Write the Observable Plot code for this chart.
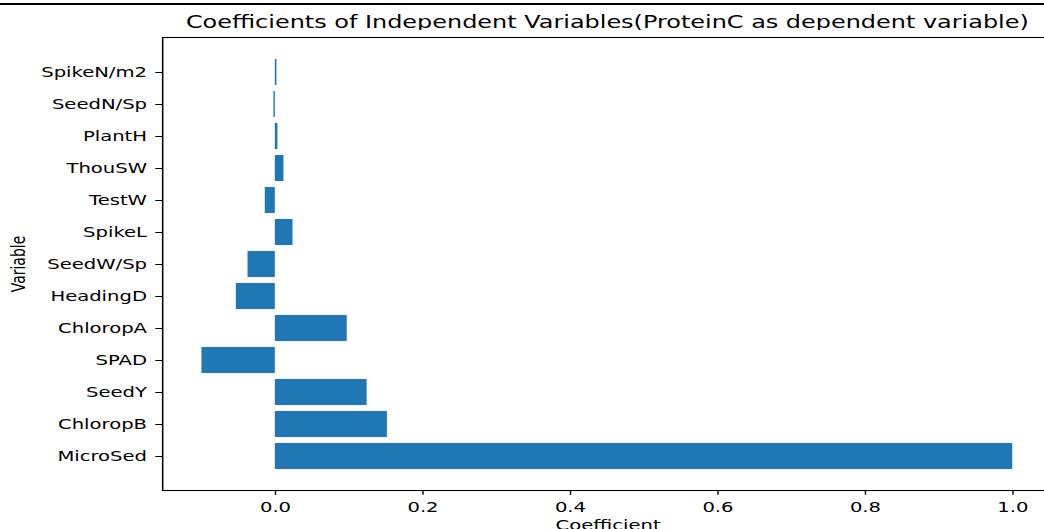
<!DOCTYPE html>
<html><head><meta charset="utf-8">
<script src="https://cdn.jsdelivr.net/npm/d3@7"></script>
<script src="https://cdn.jsdelivr.net/npm/@observablehq/plot@0.6"></script>
<style>
html,body{margin:0;padding:0;background:#fff;}
#wrap{position:relative;width:1044px;height:529px;overflow:hidden;background:#fff;}
#topline{position:absolute;left:0;top:3px;width:1044px;height:1.5px;background:#000;}
#inner{position:absolute;left:0;top:0;width:760px;height:540px;transform:scaleX(1.4);transform-origin:0 0;}
#title{position:absolute;left:115.7px;width:636.3px;top:13.6px;text-align:center;font-family:"DejaVu Sans";font-size:17.1px;line-height:17px;color:#000;white-space:nowrap;}
#chart{position:absolute;left:0;top:30px;}
</style></head>
<body>
<div id="wrap"><div id="topline"></div><div id="inner"><div id="title"></div><div id="chart"></div></div></div>
<script>
const titleText = "Coefficients of Independent Variables(ProteinC as dependent variable)";
const variables = ["SpikeN/m2", "SeedN/Sp", "PlantH", "ThouSW", "TestW", "SpikeL", "SeedW/Sp", "HeadingD", "ChloropA", "SPAD", "SeedY", "ChloropB", "MicroSed"];
const coefficients = [0.0022, -0.0019, 0.0036, 0.0117, -0.0136, 0.024, -0.037, -0.0529, 0.0975, -0.0995, 0.1245, 0.152, 1.0];
const xTicks = [0, 0.2, 0.4, 0.6, 0.8, 1.0];
const xLabel = "Coefficient";
const yLabel = "Variable";

document.getElementById("title").textContent = titleText;
const data = variables.map((v, i) => ({variable: v, coefficient: coefficients[i]}));
const plot = Plot.plot({
  width: 753, height: 505,
  marginLeft: 115.7, marginRight: 1, marginTop: 7, marginBottom: 45,
  style: {fontFamily: "DejaVu Sans", fontSize: "14px", color: "#000", background: "#fff", overflow: "visible"},
  x: {domain: [-0.153, 1.055]},
  y: {domain: variables, paddingInner: 0.2, paddingOuter: 0.64},
  marks: [
    Plot.barX(data, {x: "coefficient", y: "variable", fill: "#1f77b4"}),
    Plot.frame({stroke: "#000", strokeWidth: 1.1}),
    Plot.axisX({ticks: xTicks, tickFormat: d3.format(".1f"), tickSize: 4.8, tickPadding: 6.3, label: null}),
    Plot.axisY({tickSize: 4.8, tickPadding: 6.4, label: null}),
    Plot.text([xLabel], {frameAnchor: "bottom", text: d => d, dy: 39.5, lineAnchor: "bottom"}),
    Plot.text([yLabel], {frameAnchor: "left", text: d => d, rotate: -90, dx: -102.8, textAnchor: "middle", lineAnchor: "middle"})
  ]
});
document.getElementById("chart").appendChild(plot);
</script>
</body></html>
